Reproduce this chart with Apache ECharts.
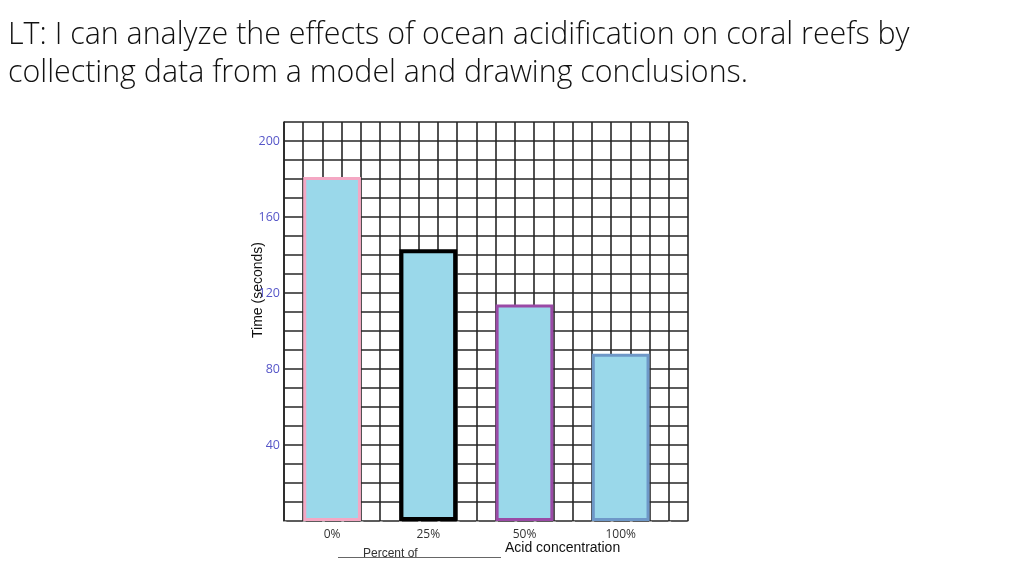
<!DOCTYPE html>
<html>
<head>
<meta charset="utf-8">
<script src="https://cdn.jsdelivr.net/npm/echarts@6/dist/echarts.min.js"></script>
<style>
html,body{margin:0;padding:0;background:#fff;}
#chart{width:1024px;height:576px;}
</style>
</head>
<body>
<div id="chart"></div>
<script>
const titleText = 'LT: I can analyze the effects of ocean acidification on coral reefs by\ncollecting data from a model and drawing conclusions.';
const categories = ['0%', '25%', '50%', '100%'];
const times = [181, 143, 114, 88];
const borderColors = ['#f4a7c3', '#000000', '#9a4aa6', '#6e98c8'];
const borderWidths = [3, 4, 3, 3];
const yAxisName = 'Time (seconds)';
const xAxisName = 'Acid concentration';
const xAxisPrefix = 'Percent of';
const yMax = 210;
const yStep = 10;
const yLabelStep = 40;
const gridCols = 21;

const chart = echarts.init(document.getElementById('chart'));

const gridTop = 122, gridBottom = 55, gridLeft = 284, gridRight = 336;
const cell = (1024 - gridLeft - gridRight) / gridCols;
const barGridRight = 1024 - gridLeft - cell * categories.length * 5;

const barData = times.map((v, i) => ({
  value: v,
  itemStyle: { borderColor: borderColors[i], borderWidth: borderWidths[i] }
}));

chart.setOption({
  animation: false,
  backgroundColor: '#ffffff',
  title: {
    text: titleText,
    left: 3, top: 11,
    textStyle: { fontFamily: 'Open Sans', fontWeight: 300, fontSize: 30.4, color: '#111', lineHeight: 38 }
  },
  grid: [
    { left: gridLeft, right: gridRight, top: gridTop, bottom: gridBottom },
    { left: gridLeft, right: barGridRight, top: gridTop, bottom: gridBottom }
  ],
  xAxis: [
    {
      type: 'value', gridIndex: 0, min: 0, max: gridCols, interval: 1,
      position: 'top', offset: 6,
      axisLine: { show: true, lineStyle: { color: '#a8a8a8', width: 1, type: [2, cell - 2] } },
      axisTick: { show: false }, axisLabel: { show: false },
      splitLine: { show: true, lineStyle: { color: '#262626', width: 1.6 } }
    },
    {
      type: 'category', gridIndex: 1, data: categories,
      axisLine: { show: false }, axisTick: { show: false },
      axisLabel: { margin: 8, fontFamily: 'Open Sans', fontSize: 12, color: '#333' },
      splitLine: { show: false }
    }
  ],
  yAxis: [
    {
      type: 'value', gridIndex: 0, min: 0, max: yMax, interval: yStep, position: 'left',
      axisLine: { show: true, lineStyle: { color: '#262626', width: 1.6 } },
      axisTick: { show: false },
      axisLabel: { show: false },
      splitLine: { show: true, lineStyle: { color: '#262626', width: 1.6 } }
    },
    {
      type: 'value', gridIndex: 1, min: 0, max: yMax, interval: yStep,
      show: false, splitLine: { show: false }
    },
    {
      type: 'value', gridIndex: 0, min: 0, max: yMax, interval: yStep, z: 30,
      position: 'left', offset: 0,
      axisLine: { show: false }, axisTick: { show: false }, splitLine: { show: false },
      axisLabel: {
        margin: 4, fontFamily: 'Open Sans', fontSize: 12.5, color: '#5656c8',
        formatter: v => (v > 0 && v % yLabelStep === 0) ? String(v) : ''
      }
    }
  ],
  series: [{
    type: 'bar', xAxisIndex: 1, yAxisIndex: 1,
    data: barData, barWidth: '60%',
    itemStyle: { color: '#9ad8ea' }
  }],
  graphic: [
    { type: 'text', x: 258, y: 290, rotation: Math.PI / 2, z: -10,
      style: { text: yAxisName, font: '14px "Liberation Sans"', fill: '#111', align: 'center', verticalAlign: 'middle' } },
    { type: 'line', shape: { x1: 338, y1: 557.5, x2: 501, y2: 557.5 }, style: { stroke: '#666', lineWidth: 1 }, z: 10 },
    { type: 'text', left: 363, top: 548, style: { text: xAxisPrefix, font: '12px "Liberation Sans"', fill: '#333' } },
    { type: 'text', left: 505, top: 541, style: { text: xAxisName, font: '14px "Liberation Sans"', fill: '#111' } }
  ]
});
</script>
</body>
</html>
